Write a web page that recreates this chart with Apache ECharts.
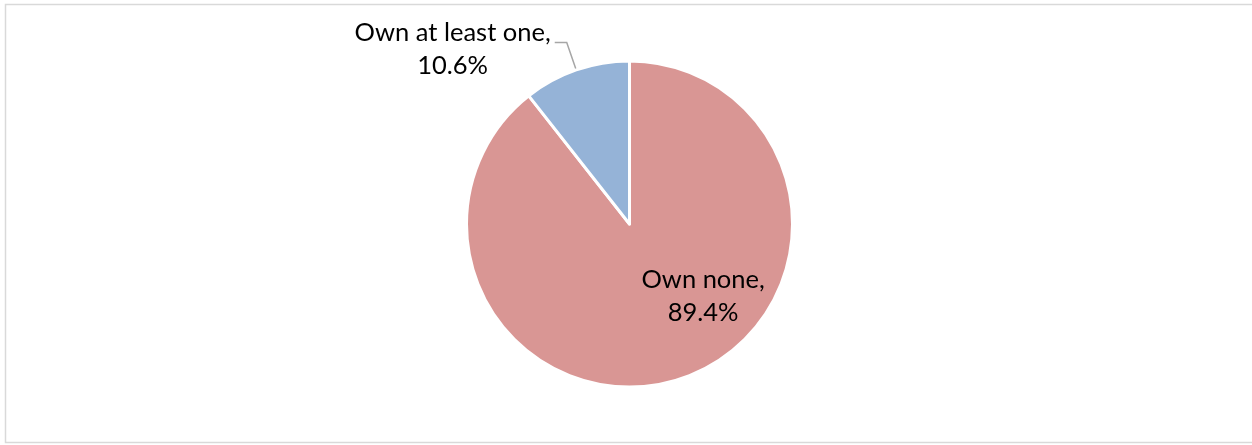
<!DOCTYPE html>
<html>
<head>
<meta charset="utf-8">
<script src="https://cdn.jsdelivr.net/npm/echarts@6/dist/echarts.min.js"></script>
<style>
html,body{margin:0;padding:0;background:#fff;}
#chart{width:1252px;height:445px;}
</style>
</head>
<body>
<div id="chart"></div>
<script>
const categories = ["Own none", "Own at least one"];
const values = [89.4, 10.6];
const colors = ["#D99694", "#95B3D7"];

const chart = echarts.init(document.getElementById('chart'), null, {renderer: 'canvas'});
const fontFamily = 'Lato, "Noto Sans", sans-serif';

const data = categories.map((c, i) => ({
  name: c,
  value: values[i],
  itemStyle: {color: colors[i]},
  label: i === 0
    ? {position: 'inside', offset: [46, -8]}
    : {position: 'outside'}
}));

chart.setOption({
  animation: false,
  graphic: [{
    type: 'rect',
    shape: {x: 5.5, y: 4.5, width: 1260, height: 438},
    style: {fill: 'none', stroke: '#d9d9d9', lineWidth: 1.5},
    silent: true
  }],
  series: [{
    type: 'pie',
    center: [629.5, 224],
    radius: [0, 163],
    startAngle: 90,
    clockwise: true,
    data: data,
    itemStyle: {borderColor: '#ffffff', borderWidth: 3},
    label: {
      show: true,
      formatter: p => p.name + ',\n' + p.value.toFixed(1) + '%',
      fontFamily: fontFamily,
      fontSize: 25.5,
      lineHeight: 33,
      color: '#000000',
      align: 'center'
    },
    labelLine: {
      show: true,
      length: 29,
      length2: 12,
      lineStyle: {color: '#a6a6a6', width: 1.5}
    },
    labelLayout: function (p) {
      if (p.dataIndex !== 1) return {};
      const r = p.labelRect;
      return {
        x: r.x + r.width / 2 + 1,
        y: r.y + r.height / 2 + 7,
        align: 'center',
        verticalAlign: 'middle',
        labelLinePoints: p.labelLinePoints
      };
    }
  }]
});
</script>
</body>
</html>
